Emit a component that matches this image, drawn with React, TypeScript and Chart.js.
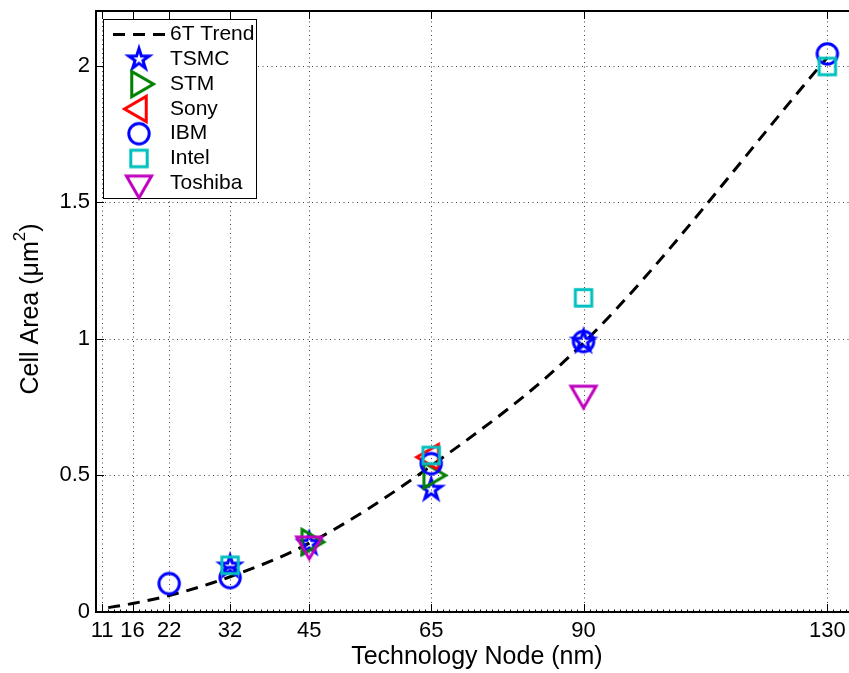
import React, { useEffect, useRef } from "react";
import { Chart, registerables } from "chart.js";

Chart.register(...registerables);

const FONT = "'Liberation Sans', Arial, Helvetica, sans-serif";

// ---- axis ticks ----
const xTickValues = [11, 16, 22, 32, 45, 65, 90, 130];
const yTickValues = [0, 0.5, 1, 1.5, 2];
const yTickLabels = ["0", "0.5", "1", "1.5", "2"];

// ---- series (technology node nm, cell area um^2) ----
const trendNodes = [12, 16, 22, 32, 45, 65, 90, 130];
const trendArea = [0.016, 0.031, 0.06, 0.129, 0.252, 0.535, 0.985, 2.03];

const tsmcNodes = [32, 45, 65, 90];
const tsmcArea = [0.167, 0.25, 0.448, 0.99];

const stmNodes = [45, 65];
const stmArea = [0.256, 0.5];

const sonyNodes = [65];
const sonyArea = [0.567];

const ibmNodes = [22, 32, 65, 90, 130];
const ibmArea = [0.104, 0.126, 0.543, 0.99, 2.043];

const intelNodes = [32, 65, 90, 130];
const intelArea = [0.171, 0.573, 1.15, 1.997];

const toshibaNodes = [45, 90];
const toshibaArea = [0.248, 0.8];

const seriesLabels = ["TSMC", "STM", "Sony", "IBM", "Intel", "Toshiba"];
const seriesColors = ["#0000ff", "#008000", "#ff0000", "#0000ff", "#00bfbf", "#bf00bf"];
const seriesShapes = ["star", "right", "left", "circle", "square", "down"];

function makeMarker(kind: string, color: string): HTMLCanvasElement {
  const c = document.createElement("canvas");
  c.width = 48;
  c.height = 48;
  const g = c.getContext("2d")!;
  const cx = 24;
  const cy = 24;
  g.strokeStyle = color;
  g.lineWidth = 3;
  g.lineJoin = "miter";
  g.beginPath();
  if (kind === "circle") {
    g.arc(cx, cy, 10.2, 0, Math.PI * 2);
  } else if (kind === "square") {
    g.rect(cx - 8.2, cy - 8.2, 16.4, 16.4);
  } else if (kind === "star") {
    const R = 10.8;
    const r = R * 0.382;
    for (let i = 0; i < 10; i++) {
      const a = (-90 + i * 36) * (Math.PI / 180);
      const rr = i % 2 === 0 ? R : r;
      const px = cx + rr * Math.cos(a);
      const py = cy + rr * Math.sin(a);
      if (i === 0) g.moveTo(px, py);
      else g.lineTo(px, py);
    }
  } else {
    const baseMap: Record<string, number> = { up: -90, down: 90, right: 0, left: 180 };
    const base = baseMap[kind];
    const r = 14.5;
    for (let k = 0; k < 3; k++) {
      const a = (base + k * 120) * (Math.PI / 180);
      const px = cx + r * Math.cos(a);
      const py = cy + r * Math.sin(a);
      if (k === 0) g.moveTo(px, py);
      else g.lineTo(px, py);
    }
  }
  g.closePath();
  g.stroke();
  return c;
}

const TREND_DASH = [12, 8];

export default function App() {
  const ref = useRef<HTMLCanvasElement>(null);

  useEffect(() => {
    const canvas = ref.current!;
    const markers = seriesShapes.map((s, i) => makeMarker(s, seriesColors[i]));
    const nodesList = [tsmcNodes, stmNodes, sonyNodes, ibmNodes, intelNodes, toshibaNodes];
    const areaList = [tsmcArea, stmArea, sonyArea, ibmArea, intelArea, toshibaArea];

    const pointSets = seriesLabels.map((label, i) => ({
      label,
      data: nodesList[i].map((n, j) => ({ x: n, y: areaList[i][j] })),
      pointStyle: markers[i] as any,
      pointRadius: 10,
      showLine: false,
      borderColor: seriesColors[i],
      backgroundColor: seriesColors[i],
      order: 5 - i,
    }));

    const axesPlugin = {
      id: "matlabAxes",
      beforeDatasetsDraw(chart: any) {
        const { ctx, chartArea } = chart;
        const { left, right, top, bottom } = chartArea;
        const xs = chart.scales.x;
        const ys = chart.scales.y;
        ctx.save();
        // dotted grid
        ctx.strokeStyle = "rgba(0,0,0,0.75)";
        ctx.lineWidth = 1;
        ctx.setLineDash([1, 3.5]);
        xTickValues.forEach((v) => {
          const px = Math.round(xs.getPixelForValue(v)) + 0.5;
          ctx.beginPath();
          ctx.moveTo(px, bottom);
          ctx.lineTo(px, top);
          ctx.stroke();
        });
        yTickValues.forEach((v) => {
          if (v === 0) return;
          const py = Math.round(ys.getPixelForValue(v)) + 0.5;
          ctx.beginPath();
          ctx.moveTo(left, py);
          ctx.lineTo(right, py);
          ctx.stroke();
        });
        ctx.setLineDash([]);
        ctx.strokeStyle = "#000";
        // major ticks
        ctx.lineWidth = 1;
        xTickValues.forEach((v) => {
          const px = Math.round(xs.getPixelForValue(v)) + 0.5;
          ctx.beginPath();
          ctx.moveTo(px, bottom);
          ctx.lineTo(px, bottom - 8);
          ctx.moveTo(px, top);
          ctx.lineTo(px, top + 8);
          ctx.stroke();
        });
        yTickValues.forEach((v) => {
          const py = Math.round(ys.getPixelForValue(v)) + 0.5;
          ctx.beginPath();
          ctx.moveTo(left, py);
          ctx.lineTo(left + 8, py);
          ctx.moveTo(right, py);
          ctx.lineTo(right - 8, py);
          ctx.stroke();
        });
        // minor ticks every 1 nm along the bottom axis
        for (let v = Math.ceil(xs.min); v <= xs.max; v++) {
          if (xTickValues.indexOf(v) >= 0) continue;
          const px = Math.round(xs.getPixelForValue(v)) + 0.5;
          ctx.beginPath();
          ctx.moveTo(px, bottom);
          ctx.lineTo(px, bottom - 2.5);
          ctx.stroke();
        }
        // box
        ctx.lineWidth = 2;
        ctx.strokeRect(Math.round(left), Math.round(top), right - Math.round(left), Math.round(bottom) - Math.round(top));
        ctx.restore();
      },
    };

    const overlayPlugin = {
      id: "matlabOverlay",
      afterDraw(chart: any) {
        const { ctx } = chart;
        ctx.save();
        // legend box
        const bx = 103.5;
        const by = 19.5;
        const bw = 153;
        const bh = 179;
        ctx.fillStyle = "#fff";
        ctx.fillRect(bx, by, bw, bh);
        ctx.strokeStyle = "#000";
        ctx.lineWidth = 1;
        ctx.strokeRect(bx, by, bw, bh);
        const y0 = 34.5;
        const step = 24.8;
        ctx.font = `21px ${FONT}`;
        ctx.fillStyle = "#000";
        ctx.textBaseline = "middle";
        ctx.textAlign = "left";
        // trend entry
        const trendDs = chart.data.datasets[0];
        ctx.strokeStyle = trendDs.borderColor;
        ctx.lineWidth = trendDs.borderWidth;
        ctx.setLineDash(TREND_DASH);
        ctx.beginPath();
        ctx.moveTo(113, y0);
        ctx.lineTo(166, y0);
        ctx.stroke();
        ctx.setLineDash([]);
        ctx.fillText(trendDs.label, 170, y0);
        for (let i = 0; i < seriesLabels.length; i++) {
          const ds = chart.data.datasets[i + 1];
          const yy = y0 + step * (i + 1);
          const img = ds.pointStyle as HTMLCanvasElement;
          ctx.drawImage(img, 139 - img.width / 2, yy - img.height / 2);
          ctx.fillText(ds.label, 170, yy);
        }
        // y-axis title with superscript
        ctx.translate(37.7, 309);
        ctx.rotate(-Math.PI / 2);
        ctx.textBaseline = "alphabetic";
        const mainFont = `25px ${FONT}`;
        const supFont = `17px ${FONT}`;
        const part1 = "Cell Area (\u03bcm";
        const sup = "2";
        const part3 = ")";
        ctx.font = mainFont;
        const w1 = ctx.measureText(part1).width;
        const w3 = ctx.measureText(part3).width;
        ctx.font = supFont;
        const w2 = ctx.measureText(sup).width;
        let sx = -(w1 + w2 + w3) / 2;
        ctx.font = mainFont;
        ctx.fillText(part1, sx, 0);
        sx += w1;
        ctx.font = supFont;
        ctx.fillText(sup, sx, -12.5);
        sx += w2;
        ctx.font = mainFont;
        ctx.fillText(part3, sx, 0);
        ctx.restore();
      },
    };

    const chart = new Chart(canvas, {
      type: "scatter",
      data: {
        datasets: [
          {
            label: "6T Trend",
            data: trendNodes.map((n, j) => ({ x: n, y: trendArea[j] })),
            showLine: true,
            borderColor: "#000",
            borderWidth: 3,
            borderDash: TREND_DASH,
            pointRadius: 0,
            cubicInterpolationMode: "monotone",
            order: 6,
          } as any,
          ...pointSets,
        ],
      },
      options: {
        responsive: false,
        animation: false,
        devicePixelRatio: 1,
        layout: { padding: { top: 11, right: 22.2, left: 0, bottom: 0 } },
        plugins: {
          legend: { display: false },
          tooltip: { enabled: false },
        },
        scales: {
          x: {
            type: "linear",
            min: 10,
            max: 135,
            grid: { display: false, drawTicks: false },
            border: { display: false },
            afterBuildTicks: (s: any) => {
              s.ticks = xTickValues.map((v) => ({ value: v }));
            },
            afterFit: (s: any) => {
              s.height = 61;
            },
            ticks: {
              autoSkip: false,
              maxRotation: 0,
              minRotation: 0,
              padding: 5.5,
              color: "#000",
              font: { family: FONT, size: 22 },
              callback: (v: any) => String(v),
            },
            title: {
              display: true,
              text: "Technology Node (nm)",
              color: "#000",
              font: { family: FONT, size: 25 },
              padding: { top: 0, bottom: 1 },
            },
          },
          y: {
            type: "linear",
            min: 0,
            max: 2.2,
            grid: { display: false, drawTicks: false },
            border: { display: false },
            afterBuildTicks: (s: any) => {
              s.ticks = yTickValues.map((v) => ({ value: v }));
            },
            afterFit: (s: any) => {
              s.width = 96;
            },
            ticks: {
              autoSkip: false,
              padding: 6,
              color: "#000",
              font: { family: FONT, size: 22, lineHeight: 0.4 },
              callback: (v: any) => {
                const i = yTickValues.indexOf(Number(v));
                return i >= 0 ? yTickLabels[i] : "";
              },
            },
            title: { display: false },
          },
        },
      } as any,
      plugins: [axesPlugin, overlayPlugin],
    });

    return () => chart.destroy();
  }, []);

  return (
    <div
      style={{
        position: "fixed",
        left: 0,
        top: 0,
        width: 849,
        height: 673,
        overflow: "hidden",
        background: "#fff",
      }}
    >
      <canvas ref={ref} width={880} height={673} style={{ display: "block", width: 880, height: 673 }} />
    </div>
  );
}
